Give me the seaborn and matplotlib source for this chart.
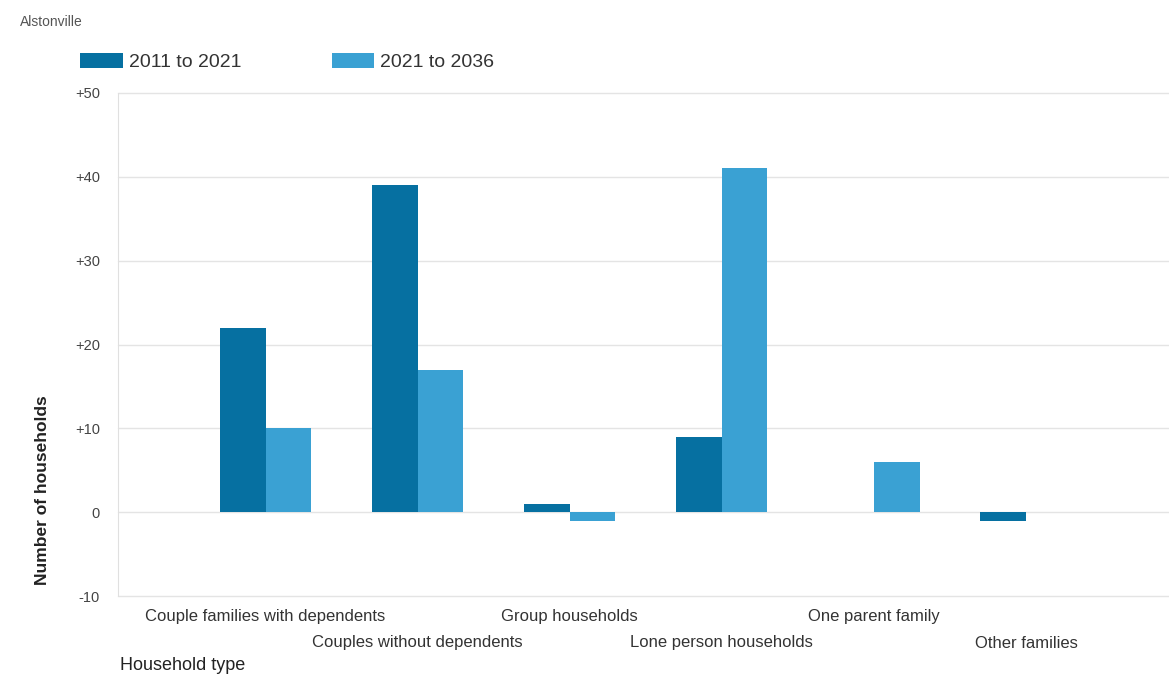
import pandas as pd
import matplotlib.pyplot as plt
import seaborn as sns
from matplotlib.ticker import FuncFormatter
from matplotlib.transforms import ScaledTranslation

# --- data ---
household_types = ['Couple families with dependents', 'Couples without dependents',
                   'Group households', 'Lone person households',
                   'One parent family', 'Other families']
change_2011_2021 = [22, 39, 1, 9, 0, -1]
change_2021_2036 = [10, 17, -1, 41, 6, 0]
periods = ['2011 to 2021', '2021 to 2036']
colors = ['#0670a1', '#3aa1d3']

df = pd.DataFrame({
    'household_type': household_types * 2,
    'period': [periods[0]] * len(household_types) + [periods[1]] * len(household_types),
    'change': change_2011_2021 + change_2021_2036,
})

sns.set_style('white')
plt.rcParams['font.family'] = ['Liberation Sans', 'DejaVu Sans']

fig = plt.figure(figsize=(11.69, 6.84), dpi=100)
ax = fig.add_axes([118 / 1169, 1 - 596 / 684, 1 - 118 / 1169, (596 - 93) / 684])

sns.barplot(data=df, x='household_type', y='change', hue='period', order=household_types,
            hue_order=periods, palette=colors, width=0.6, saturation=1, linewidth=0,
            ax=ax, legend=True)

ax.set_ylim(-10, 50)
ax.set_xlim(-0.97, 5.94)
ax.set_yticks(range(-10, 51, 10))
ax.yaxis.set_major_formatter(FuncFormatter(lambda v, p: f'+{int(v)}' if v > 0 else f'{int(v)}'))
ax.grid(axis='y', color='#e4e4e4', linewidth=1)
for gl in ax.get_ygridlines():
    gl.set_clip_on(False)
ax.set_axisbelow(True)
for s in ['top', 'right', 'bottom']:
    ax.spines[s].set_visible(False)
ax.spines['left'].set_color('#e0e0e0')

# staggered category labels: every second one drops to a lower row
ax.set_xticks(range(len(household_types)))
ax.set_xticklabels(household_types, fontsize=12, color='#333333')
ax.tick_params(axis='x', length=0, pad=9)
for i, lab in enumerate(ax.get_xticklabels()):
    if i % 2 == 1:
        lab.set_transform(lab.get_transform() + ScaledTranslation(0, -27 / 100, fig.dpi_scale_trans))
ax.tick_params(axis='y', length=0, pad=13, labelsize=10.5, labelcolor='#444444')

ax.set_xlabel('')
ax.set_ylabel('Number of households', fontsize=12.5, fontweight='bold', color='#222222')
ax.yaxis.set_label_coords(-0.065, 0.21)

fig.text(120 / 1169, 1 - 665 / 684, 'Household type', fontsize=13, color='#222222', va='center')
fig.text(20 / 1169, 1 - 22 / 684, 'Alstonville', fontsize=10, color='#555555', va='center')

handles, lbls = ax.get_legend_handles_labels()
ax.legend(handles, lbls, loc='center left', bbox_to_anchor=(80 / 1169, 1 - 62 / 684),
          bbox_transform=fig.transFigure, frameon=False, ncol=2, fontsize=14,
          handlelength=2.2, handleheight=0.85, handletextpad=0.3, columnspacing=4.65,
          borderpad=0, borderaxespad=0, labelcolor='#333333')

fig.savefig('out.png', dpi=100)
